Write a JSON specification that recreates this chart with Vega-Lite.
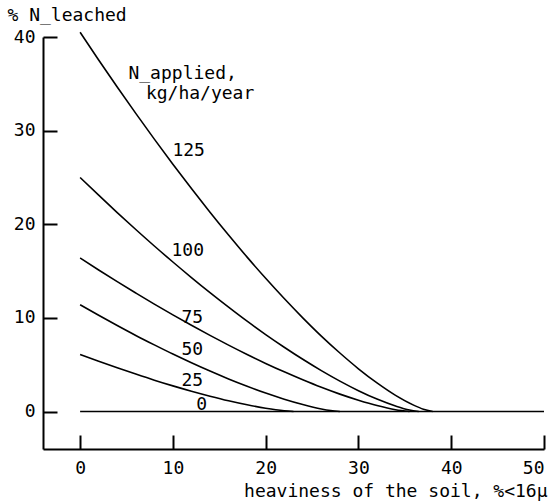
{
  "$schema": "https://vega.github.io/schema/vega-lite/v6.json",
  "width": 501,
  "height": 412,
  "autosize": "none",
  "padding": {"left": 43, "top": 37, "right": 12, "bottom": 55},
  "background": "white",
  "config": {
    "view": {"stroke": null},
    "font": "DejaVu Sans Mono",
    "axis": {
      "grid": false,
      "ticks": true,
      "domainColor": "black",
      "domainWidth": 2,
      "tickColor": "black",
      "tickWidth": 2,
      "labelFont": "DejaVu Sans Mono",
      "labelFontSize": 18,
      "labelColor": "black",
      "titleFont": "DejaVu Sans Mono",
      "titleFontSize": 18,
      "titleFontWeight": "normal",
      "titleColor": "black"
    }
  },
  "datasets": {
    "curves": [
      {"n": "0", "x": 0, "y": 0}, {"n": "0", "x": 50, "y": 0},
      {"n": "25", "x": 0, "y": 6.1}, {"n": "25", "x": 2, "y": 5.37}, {"n": "25", "x": 4, "y": 4.67}, {"n": "25", "x": 6, "y": 4.0}, {"n": "25", "x": 8, "y": 3.35}, {"n": "25", "x": 10, "y": 2.74}, {"n": "25", "x": 12, "y": 2.17}, {"n": "25", "x": 14, "y": 1.64}, {"n": "25", "x": 16, "y": 1.15}, {"n": "25", "x": 18, "y": 0.72}, {"n": "25", "x": 20, "y": 0.35}, {"n": "25", "x": 22, "y": 0.08}, {"n": "25", "x": 23, "y": 0},
      {"n": "50", "x": 0, "y": 11.4}, {"n": "50", "x": 2, "y": 10.28}, {"n": "50", "x": 4, "y": 9.19}, {"n": "50", "x": 6, "y": 8.13}, {"n": "50", "x": 8, "y": 7.12}, {"n": "50", "x": 10, "y": 6.14}, {"n": "50", "x": 12, "y": 5.21}, {"n": "50", "x": 14, "y": 4.32}, {"n": "50", "x": 16, "y": 3.48}, {"n": "50", "x": 18, "y": 2.7}, {"n": "50", "x": 20, "y": 1.97}, {"n": "50", "x": 22, "y": 1.32}, {"n": "50", "x": 24, "y": 0.75}, {"n": "50", "x": 26, "y": 0.28}, {"n": "50", "x": 27, "y": 0.11}, {"n": "50", "x": 28, "y": 0},
      {"n": "75", "x": 0, "y": 16.4}, {"n": "75", "x": 2, "y": 15.12}, {"n": "75", "x": 4, "y": 13.87}, {"n": "75", "x": 6, "y": 12.66}, {"n": "75", "x": 8, "y": 11.47}, {"n": "75", "x": 10, "y": 10.32}, {"n": "75", "x": 12, "y": 9.21}, {"n": "75", "x": 14, "y": 8.13}, {"n": "75", "x": 16, "y": 7.09}, {"n": "75", "x": 18, "y": 6.09}, {"n": "75", "x": 20, "y": 5.14}, {"n": "75", "x": 22, "y": 4.24}, {"n": "75", "x": 24, "y": 3.39}, {"n": "75", "x": 26, "y": 2.59}, {"n": "75", "x": 28, "y": 1.86}, {"n": "75", "x": 30, "y": 1.21}, {"n": "75", "x": 32, "y": 0.64}, {"n": "75", "x": 34, "y": 0.2}, {"n": "75", "x": 35.5, "y": 0},
      {"n": "100", "x": 0, "y": 25}, {"n": "100", "x": 2, "y": 23.11}, {"n": "100", "x": 4, "y": 21.25}, {"n": "100", "x": 6, "y": 19.44}, {"n": "100", "x": 8, "y": 17.68}, {"n": "100", "x": 10, "y": 15.97}, {"n": "100", "x": 12, "y": 14.31}, {"n": "100", "x": 14, "y": 12.7}, {"n": "100", "x": 16, "y": 11.15}, {"n": "100", "x": 18, "y": 9.65}, {"n": "100", "x": 20, "y": 8.22}, {"n": "100", "x": 22, "y": 6.87}, {"n": "100", "x": 24, "y": 5.58}, {"n": "100", "x": 26, "y": 4.37}, {"n": "100", "x": 28, "y": 3.25}, {"n": "100", "x": 30, "y": 2.23}, {"n": "100", "x": 32, "y": 1.33}, {"n": "100", "x": 34, "y": 0.59}, {"n": "100", "x": 35.5, "y": 0.16}, {"n": "100", "x": 36.5, "y": 0},
      {"n": "125", "x": 0, "y": 40.5}, {"n": "125", "x": 2, "y": 37.55}, {"n": "125", "x": 4, "y": 34.66}, {"n": "125", "x": 6, "y": 31.84}, {"n": "125", "x": 8, "y": 29.09}, {"n": "125", "x": 10, "y": 26.41}, {"n": "125", "x": 12, "y": 23.81}, {"n": "125", "x": 14, "y": 21.29}, {"n": "125", "x": 16, "y": 18.85}, {"n": "125", "x": 18, "y": 16.49}, {"n": "125", "x": 20, "y": 14.23}, {"n": "125", "x": 22, "y": 12.07}, {"n": "125", "x": 24, "y": 10.01}, {"n": "125", "x": 26, "y": 8.06}, {"n": "125", "x": 28, "y": 6.25}, {"n": "125", "x": 30, "y": 4.57}, {"n": "125", "x": 32, "y": 3.06}, {"n": "125", "x": 34, "y": 1.73}, {"n": "125", "x": 36, "y": 0.66}, {"n": "125", "x": 37, "y": 0.25}, {"n": "125", "x": 38, "y": 0}
    ],
    "labels": [
      {"x": 11.05, "y": 36.0, "t": "N_applied,"},
      {"x": 12.93, "y": 33.9, "t": "kg/ha/year"},
      {"x": 11.7, "y": 27.8, "t": "125"},
      {"x": 11.6, "y": 17.1, "t": "100"},
      {"x": 12.1, "y": 10.0, "t": "75"},
      {"x": 12.1, "y": 6.6, "t": "50"},
      {"x": 12.1, "y": 3.3, "t": "25"},
      {"x": 13.1, "y": 0.75, "t": "0"}
    ]
  },
  "layer": [
    {
      "data": {"name": "curves"},
      "mark": {"type": "line", "color": "black", "strokeWidth": 1.6, "interpolate": "monotone"},
      "encoding": {
        "x": {
          "field": "x", "type": "quantitative",
          "scale": {"domain": [-4, 50], "nice": false, "zero": false},
          "axis": {
            "values": [0, 10, 20, 30, 40, 50],
            "tickSize": -14,
            "labelPadding": 24,
            "title": "heaviness of the soil, %<16μ",
            "titleAlign": "right",
            "titleBaseline": "middle",
            "titleX": 504,
            "titleY": 42
          }
        },
        "y": {
          "field": "y", "type": "quantitative",
          "scale": {"domain": [-4, 40], "nice": false, "zero": false},
          "axis": {
            "values": [0, 10, 20, 30, 40],
            "tickSize": -14,
            "labelPadding": 22,
            "title": "% N_leached",
            "titleAngle": 0,
            "titleAlign": "left",
            "titleBaseline": "middle",
            "titleX": -36,
            "titleY": -22
          }
        },
        "detail": {"field": "n"}
      }
    },
    {
      "data": {"name": "labels"},
      "mark": {"type": "text", "align": "center", "baseline": "middle", "fontSize": 18, "font": "DejaVu Sans Mono", "color": "black"},
      "encoding": {
        "x": {"field": "x", "type": "quantitative"},
        "y": {"field": "y", "type": "quantitative"},
        "text": {"field": "t"}
      }
    }
  ]
}
